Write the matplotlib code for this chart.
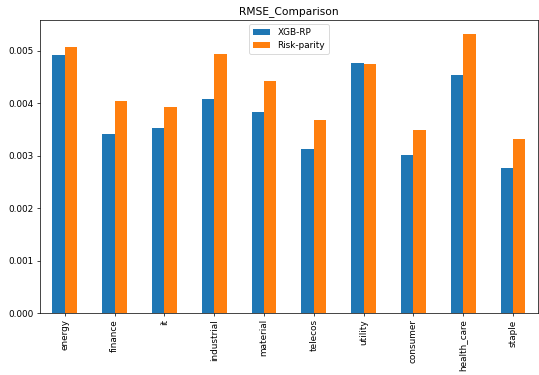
import matplotlib
matplotlib.use("Agg")
import matplotlib.pyplot as plt
import pandas as pd

sectors = ["energy", "finance", "it", "industrial", "material", "telecos",
           "utility", "consumer", "health_care", "staple"]
xgb_rp = [0.00491, 0.00342, 0.00352, 0.00408, 0.00383, 0.00313,
          0.00476, 0.00302, 0.00454, 0.00277]
risk_parity = [0.00506, 0.00404, 0.00392, 0.00493, 0.00443, 0.00368,
               0.00475, 0.00349, 0.00532, 0.00332]

df = pd.DataFrame({"XGB-RP": xgb_rp, "Risk-parity": risk_parity}, index=sectors)

dpi = 64
fig, ax = plt.subplots(figsize=(539 / dpi, 375 / dpi), dpi=dpi)
df.plot(kind="bar", ax=ax, title="RMSE_Comparison")
ax.legend(loc="upper center")
fig.subplots_adjust(left=0.074, right=0.998, bottom=0.165, top=0.947)

fig.savefig("out.png", dpi=dpi)
